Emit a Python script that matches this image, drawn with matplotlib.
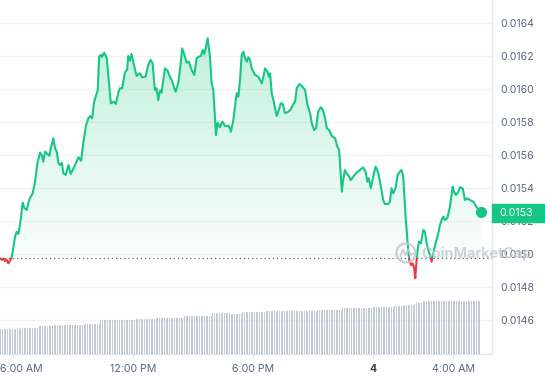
import numpy as np
import matplotlib
matplotlib.use("Agg")
import matplotlib.pyplot as plt
from matplotlib.patches import Rectangle, Circle, Polygon
from matplotlib.lines import Line2D
from matplotlib.transforms import blended_transform_factory, ScaledTranslation
from matplotlib.colors import LinearSegmentedColormap

plt.rcParams['font.family'] = ['Inter', 'DejaVu Sans']

# ---- data (minutes after 05:22, price in USD) ----
minutes = [0, 6, 10, 15, 19, 25, 30, 35, 40, 45, 50, 55, 62, 68, 73, 80, 88, 98, 105, 112,
           120, 125, 130, 135, 142, 148, 152, 160, 165, 170, 175, 180, 185, 190, 197, 205, 212, 225, 235, 243,
           250, 258, 265, 270, 276, 282, 293, 297, 302, 305, 312, 320, 332, 341, 347, 354, 359, 366, 374, 381,
           384, 389, 394, 399, 409, 419, 426, 436, 444, 451, 457, 464, 469, 474, 479, 484, 494, 502, 509, 514,
           519, 526, 534, 539, 546, 554, 559, 566, 574, 582, 589, 596, 602, 607, 612, 616, 622, 629, 634, 639,
           647, 652, 659, 666, 674, 686, 692, 699, 704, 709, 714, 719, 724, 729, 734, 739, 744, 749, 754, 764,
           774, 784, 789, 794, 801, 806, 809, 814, 819, 829, 837, 841, 847, 854, 864, 871, 879, 884, 889, 897,
           904, 914, 921, 929, 934, 941, 947, 953, 961, 967, 974, 979, 986, 994, 1004, 1010, 1016, 1024, 1028, 1033,
           1039, 1043, 1051, 1058, 1068, 1078, 1088, 1095, 1101, 1105, 1111, 1118, 1125, 1133, 1141, 1148, 1153, 1163, 1168, 1173,
           1178, 1185, 1191, 1198, 1203, 1208, 1215, 1223, 1226, 1231, 1236, 1241, 1244, 1248, 1251, 1255, 1261, 1268, 1273, 1278,
           1283, 1288, 1293, 1298, 1305, 1313, 1318, 1323, 1328, 1333, 1340, 1348, 1356, 1360, 1366, 1373, 1378, 1386, 1393, 1400,
           1408, 1418, 1428, 1440]
price = [0.014976, 0.014966, 0.014975, 0.014959, 0.014969, 0.014945, 0.014962, 0.014982, 0.015038, 0.015107,
         0.015137, 0.015123, 0.015208, 0.015313, 0.015281, 0.015269, 0.015333, 0.015370, 0.015440, 0.015552,
         0.015616, 0.015602, 0.015561, 0.015622, 0.015608, 0.015596, 0.015642, 0.015703, 0.015642, 0.015622,
         0.015552, 0.015541, 0.015555, 0.015491, 0.015481, 0.015541, 0.015487, 0.015541, 0.015588, 0.015567,
         0.015682, 0.015784, 0.015824, 0.015838, 0.015824, 0.015925, 0.015996, 0.016198, 0.016208, 0.016196,
         0.016222, 0.016188, 0.015915, 0.015925, 0.015911, 0.015976, 0.016006, 0.016006, 0.016101, 0.016121,
         0.016202, 0.016173, 0.016214, 0.016167, 0.016081, 0.016097, 0.016073, 0.016076, 0.016147, 0.016178,
         0.016158, 0.015996, 0.016006, 0.015935, 0.015992, 0.015979, 0.016127, 0.016113, 0.016076, 0.016056,
         0.016026, 0.015985, 0.016036, 0.016117, 0.016248, 0.016198, 0.016161, 0.016167, 0.016117, 0.016087,
         0.016188, 0.016198, 0.016202, 0.016238, 0.016214, 0.016248, 0.016309, 0.016198, 0.016036, 0.015996,
         0.015723, 0.015798, 0.015770, 0.015804, 0.015778, 0.015778, 0.015743, 0.015814, 0.015895, 0.015976,
         0.015955, 0.016056, 0.016208, 0.016228, 0.016188, 0.016167, 0.016194, 0.016178, 0.016127, 0.016087,
         0.016076, 0.016036, 0.016076, 0.016127, 0.016107, 0.016076, 0.016097, 0.015976, 0.015935, 0.015838,
         0.015885, 0.015915, 0.015911, 0.015855, 0.015864, 0.015879, 0.015911, 0.015925, 0.016006, 0.016032,
         0.016020, 0.015996, 0.015905, 0.015855, 0.015794, 0.015753, 0.015764, 0.015864, 0.015891, 0.015875,
         0.015824, 0.015764, 0.015753, 0.015717, 0.015703, 0.015656, 0.015632, 0.015379, 0.015450, 0.015511,
         0.015487, 0.015481, 0.015450, 0.015470, 0.015495, 0.015511, 0.015527, 0.015501, 0.015440, 0.015461,
         0.015400, 0.015470, 0.015531, 0.015495, 0.015410, 0.015329, 0.015305, 0.015305, 0.015319, 0.015400,
         0.015370, 0.015400, 0.015481, 0.015501, 0.015511, 0.015470, 0.015228, 0.015026, 0.014966, 0.014935,
         0.014945, 0.014915, 0.014855, 0.014966, 0.015026, 0.015076, 0.015067, 0.015147, 0.015137, 0.015067,
         0.015026, 0.014996, 0.014955, 0.015006, 0.015067, 0.015127, 0.015178, 0.015208, 0.015228, 0.015208,
         0.015218, 0.015289, 0.015410, 0.015379, 0.015359, 0.015379, 0.015406, 0.015400, 0.015329, 0.015339,
         0.015329, 0.015319, 0.015285, 0.015258]
baseline = 0.01498
last_label = "0.0153"

# volume bars (5-minute bars), given as runs of equal height
volume_values = [2.52, 2.62, 2.82, 2.92, 3.08, 3.41, 3.55, 3.68, 3.81, 4.14,
                 4.08, 4.21, 4.34, 4.47, 4.61, 4.74, 4.80, 4.97, 5.14, 5.30]
volume_runs = [12, 11, 9, 19, 9, 21, 12, 17, 17, 11,
               7, 14, 31, 15, 18, 13, 6, 7, 4, 35]

xtick_minutes = [38, 398, 758, 1118, 1358]
xtick_labels = ['6:00 AM', '12:00 PM', '6:00 PM', '4', '4:00 AM']
ytick_values = [0.0146, 0.0148, 0.0150, 0.0152, 0.0154, 0.0156, 0.0158, 0.0160, 0.0162, 0.0164]

GREEN = '#16c784'
RED = '#ea3943'
LABEL = '#58667e'

W, H = 545, 380
fig = plt.figure(figsize=(W / 100, H / 100), dpi=100)
ax_right, ax_bottom = 491.7, 354.3
rect = [0, 1 - ax_bottom / H, ax_right / W, ax_bottom / H]
ax = fig.add_axes(rect, zorder=1)
axv = fig.add_axes(rect, zorder=2)
axv.patch.set_visible(False)
axv.axis('off')

t = np.array(minutes, dtype=float)
p = np.array(price)

XMAX = 1473
YMIN, YMAX = 0.014394, 0.016541

# gradient fill
verts = [(t[0], baseline)] + list(zip(t, p)) + [(t[-1], baseline)]
poly = Polygon(verts, closed=True, facecolor='none', edgecolor='none', transform=ax.transData)
ax.add_patch(poly)
cmap = LinearSegmentedColormap.from_list('g', [(0.086, 0.78, 0.52, 0.02), (0.086, 0.78, 0.52, 0.27)])
grad = np.linspace(0, 1, 256).reshape(-1, 1)
im = ax.imshow(grad, cmap=cmap, origin='lower', extent=[t[0], t[-1], baseline, 0.01635],
               aspect='auto', zorder=1, interpolation='bilinear')
im.set_clip_path(poly)

# price line, green above baseline and red below
gl, = ax.plot(t, p, color=GREEN, lw=1.5, zorder=3, solid_joinstyle='round')
gl.set_clip_path(Rectangle((-100, baseline), 3000, 1, transform=ax.transData))
rl, = ax.plot(t, p, color=RED, lw=1.5, zorder=3, solid_joinstyle='round')
rl.set_clip_path(Rectangle((-100, baseline - 1), 3000, 1, transform=ax.transData))

ax.axhline(baseline, color='#5f6670', lw=0.9, ls=(0, (1, 2.3)), zorder=2)
ax.plot([t[-1]], [p[-1]], 'o', color=GREEN, ms=7, zorder=4, clip_on=False)

ax.set_xlim(0, XMAX)
ax.set_ylim(YMIN, YMAX)

for s in ['left', 'top']:
    ax.spines[s].set_visible(False)
for s in ['right', 'bottom']:
    ax.spines[s].set_color('#e3e6ea')
    ax.spines[s].set_linewidth(1)

ax.set_yticks(ytick_values)
ax.set_yticklabels([f'{v:.4f}' for v in ytick_values])
ax.yaxis.tick_right()
ax.grid(axis='y', color='#f2f3f5', lw=1)
ax.set_axisbelow(True)
ax.tick_params(axis='y', length=0, pad=6, labelsize=7.6, labelcolor=LABEL)

ax.set_xticks(xtick_minutes)
ax.set_xticklabels(xtick_labels)
ax.tick_params(axis='x', length=3, color='#e3e6ea', pad=4, labelsize=7.6, labelcolor=LABEL)
lbls = ax.get_xticklabels()
lbls[0].set_transform(lbls[0].get_transform() + ScaledTranslation(9 / 100, 0, fig.dpi_scale_trans))
lbls[3].set_fontweight('bold')
lbls[3].set_color('#3a3f4a')

# volume bars
vols = np.repeat(volume_values, volume_runs)
bar_t = np.arange(len(vols)) * 5 + 2.5
axv.bar(bar_t, vols, width=3.0, color='#c3cad7', align='center', linewidth=0)
axv.set_xlim(0, XMAX)
axv.set_ylim(0, 35.43)

# last price box
trans = blended_transform_factory(ax.transAxes, ax.transData)
ax.add_patch(Rectangle((1.0, 0.015197), 0.11, 0.000109, transform=trans, color=GREEN,
                       clip_on=False, zorder=6))
ax.text(1.0 + 8 / ax_right, 0.015251, last_label, transform=trans, color='white', va='center',
        ha='left', fontsize=7.6, zorder=7, clip_on=False)

# watermark
wm = '#c2c7d0'
fig.add_artist(Circle((406 / 100, (H - 253) / 100), 0.095, transform=fig.dpi_scale_trans,
                      fill=False, edgecolor=wm, lw=1.6, alpha=0.85, zorder=10))
cx, cy = 4.06, (H - 253) / 100
fig.add_artist(Line2D([cx - 0.055, cx - 0.03, cx - 0.005, cx + 0.02, cx + 0.045, cx + 0.07],
                      [cy - 0.03, cy + 0.035, cy - 0.02, cy + 0.035, cy - 0.02, cy - 0.005],
                      transform=fig.dpi_scale_trans, color=wm, lw=1.4, alpha=0.85, zorder=10))
fig.text(421 / W, 1 - 254 / H, 'CoinMarketCap', fontsize=10.5, color=wm, fontweight='semibold',
         va='center', ha='left', alpha=0.85, zorder=10)

fig.savefig('out.png', dpi=100)
